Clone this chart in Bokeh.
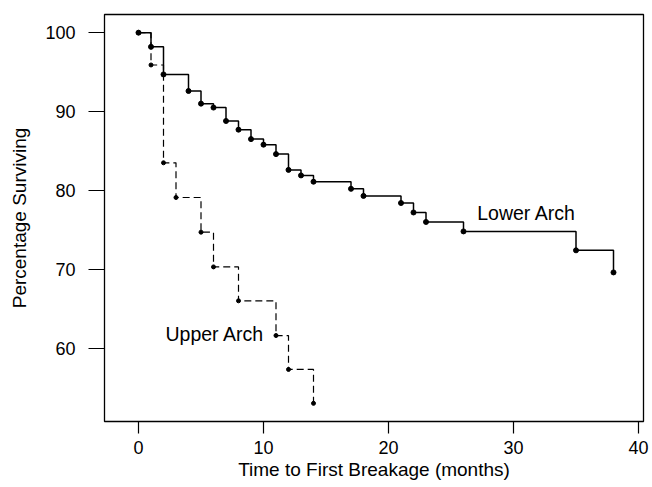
from bokeh.plotting import figure
from bokeh.models import Range1d, FixedTicker
from bokeh.core.properties import value
from bokeh.embed import file_html
from bokeh.resources import INLINE

# Data (Kaplan-Meier style survival steps)
lower_months = [0, 1, 2, 4, 5, 6, 7, 8, 9, 10, 11, 12, 13, 14, 17, 18, 21, 22, 23, 26, 35, 38]
lower_surv = [100, 98.2, 94.7, 92.6, 91.0, 90.5, 88.8, 87.7, 86.5, 85.8, 84.6, 82.6,
              81.9, 81.1, 80.2, 79.3, 78.4, 77.2, 76.0, 74.8, 72.4, 69.6]
upper_months = [0, 1, 2, 3, 5, 6, 8, 11, 12, 14]
upper_surv = [100, 95.9, 83.5, 79.1, 74.7, 70.3, 66.0, 61.6, 57.3, 53.0]
x_ticks = [0, 10, 20, 30, 40]
y_ticks = [60, 70, 80, 90, 100]
series_names = ["Lower Arch", "Upper Arch"]

FONT = "Liberation Sans"

p = figure(width=652, height=487, output_backend="svg", toolbar_location=None,
           x_range=Range1d(-2.72, 40.4), y_range=Range1d(50.7, 102.3),
           min_border_left=104, min_border_right=9, min_border_top=14, min_border_bottom=66)
p.background_fill_color = "white"
p.border_fill_color = "white"
p.outline_line_color = "black"
p.outline_line_width = 1.3
p.grid.visible = False

p.xaxis.ticker = FixedTicker(ticks=x_ticks)
p.yaxis.ticker = FixedTicker(ticks=y_ticks)
for ax in (p.xaxis[0], p.yaxis[0]):
    ax.axis_line_color = None
    ax.minor_tick_line_color = None
    ax.major_tick_in = 0
    ax.major_tick_line_color = "black"
    ax.major_tick_line_width = 1.2
    ax.major_label_text_font = FONT
    ax.major_label_text_font_size = "18px"
    ax.major_label_text_color = "black"
    ax.axis_label_text_font = FONT
    ax.axis_label_text_font_size = "19px"
    ax.axis_label_text_font_style = "normal"
    ax.axis_label_text_color = "black"

p.xaxis.major_tick_out = 12
p.xaxis.major_label_standoff = 7
p.xaxis.axis_label = "Time to First Breakage (months)"
p.xaxis.axis_label_standoff = 2
p.yaxis.major_tick_out = 16
p.yaxis.major_label_standoff = 13
p.yaxis.axis_label = "Percentage Surviving"
p.yaxis.axis_label_standoff = 12

# Lower arch: solid step line
p.step(lower_months, lower_surv, mode="after", line_color="black", line_width=1.5)
p.scatter(lower_months, lower_surv, size=5, marker="circle",
          fill_color="black", line_color="black")

# Upper arch: dashed step line
p.step(upper_months, upper_surv, mode="after", line_color="black", line_width=1.2,
       line_dash="7 4")
p.scatter(upper_months, upper_surv, size=4, marker="circle",
          fill_color="black", line_color="black")

p.text(x=[27.1, 2.16], y=[77.1, 61.8], text=series_names,
       text_font=value(FONT), text_font_size="19.5px", text_color="black",
       text_align="left", text_baseline="alphabetic")

open("out.html", "w").write(file_html(p, INLINE))
